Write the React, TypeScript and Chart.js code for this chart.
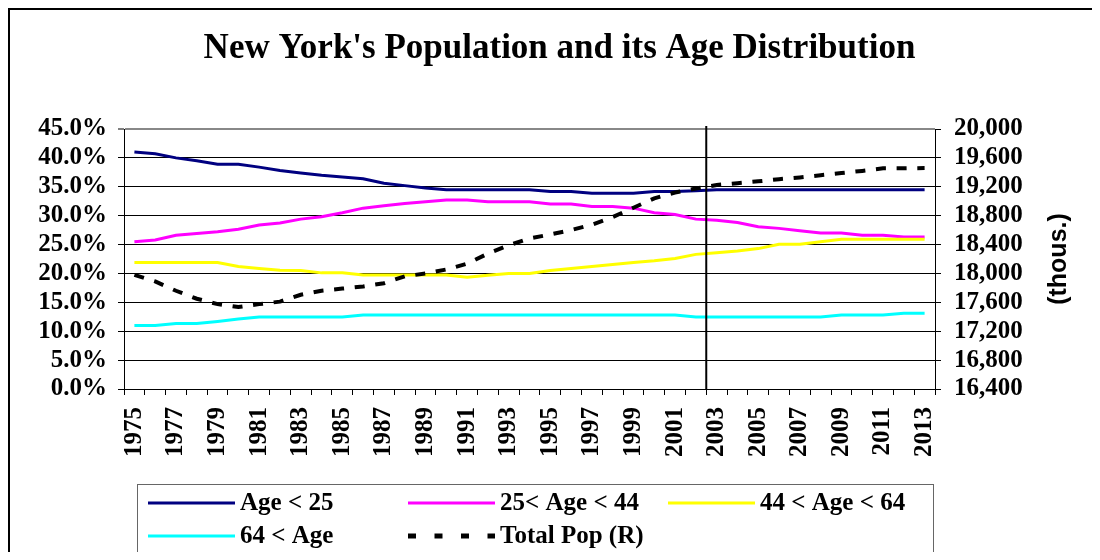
import React, { useEffect, useRef } from "react";
import { Chart, registerables } from "chart.js";

Chart.register(...registerables);

const years = [
  "1975", "1976", "1977", "1978", "1979", "1980", "1981", "1982", "1983", "1984",
  "1985", "1986", "1987", "1988", "1989", "1990", "1991", "1992", "1993", "1994",
  "1995", "1996", "1997", "1998", "1999", "2000", "2001", "2002", "2003", "2004",
  "2005", "2006", "2007", "2008", "2009", "2010", "2011", "2012", "2013",
];

const ageUnder25 = [
  41.0, 40.7, 40.0, 39.5, 38.9, 38.9, 38.4, 37.8, 37.4, 37.0,
  36.7, 36.4, 35.6, 35.2, 34.8, 34.5, 34.5, 34.5, 34.5, 34.5,
  34.2, 34.2, 33.9, 33.9, 33.9, 34.2, 34.2, 34.3, 34.5, 34.5,
  34.5, 34.5, 34.5, 34.5, 34.5, 34.5, 34.5, 34.5, 34.5,
];

const age25to44 = [
  25.5, 25.8, 26.6, 26.9, 27.2, 27.65, 28.4, 28.75, 29.4, 29.8,
  30.5, 31.3, 31.7, 32.1, 32.4, 32.7, 32.7, 32.4, 32.4, 32.4,
  32.0, 32.0, 31.6, 31.6, 31.3, 30.5, 30.2, 29.4, 29.2, 28.8,
  28.1, 27.8, 27.4, 27.0, 27.0, 26.6, 26.6, 26.3, 26.3,
];

const age44to64 = [
  21.9, 21.9, 21.9, 21.9, 21.9, 21.2, 20.85, 20.55, 20.5, 20.1,
  20.1, 19.75, 19.75, 19.75, 19.75, 19.75, 19.35, 19.7, 20.0, 20.0,
  20.5, 20.85, 21.2, 21.55, 21.9, 22.2, 22.6, 23.3, 23.6, 23.9,
  24.3, 25.05, 25.05, 25.5, 25.9, 25.9, 25.9, 25.9, 25.9,
];

const age64plus = [
  11.0, 11.0, 11.35, 11.35, 11.7, 12.1, 12.45, 12.45, 12.45, 12.45,
  12.45, 12.8, 12.8, 12.8, 12.8, 12.8, 12.8, 12.8, 12.8, 12.8,
  12.8, 12.8, 12.8, 12.8, 12.8, 12.8, 12.8, 12.45, 12.45, 12.45,
  12.45, 12.45, 12.45, 12.45, 12.8, 12.8, 12.8, 13.1, 13.1,
];

const totalPop = [
  17980, 17890, 17760, 17650, 17575, 17535, 17575, 17610, 17705, 17760,
  17790, 17820, 17865, 17960, 18000, 18055, 18135, 18275, 18390, 18485,
  18540, 18600, 18675, 18780, 18910, 19040, 19120, 19175, 19225, 19250,
  19275, 19305, 19330, 19360, 19390, 19420, 19455, 19455, 19460,
];

const seriesLabels = ["Age < 25", "25< Age < 44", "44 < Age < 64", "64 < Age", "Total Pop (R)"];
const seriesColors = ["#000080", "#FF00FF", "#FFFF00", "#00FFFF", "#000000"];

const pctMin = 0;
const pctMax = 45;
const pctStep = 5;
const popMin = 16400;
const popMax = 20000;
const popStep = 400;

const forecastStartYear = "2003";
const titleText = "New York's Population and its Age Distribution";
const rightAxisTitle = "(thous.)";

const SERIF = '"Liberation Serif", "Times New Roman", serif';
const SANS = '"Liberation Sans", Arial, sans-serif';

const markerPlugin = {
  id: "forecastMarker",
  afterDatasetsDraw(chart: any) {
    const xs = chart.scales.x;
    const i = years.indexOf(forecastStartYear);
    const px = (xs.getPixelForValue(i - 1) + xs.getPixelForValue(i)) / 2;
    const { top, bottom } = chart.chartArea;
    const ctx = chart.ctx;
    ctx.save();
    ctx.strokeStyle = "#000";
    ctx.lineWidth = 2;
    ctx.beginPath();
    ctx.moveTo(px, top - 3);
    ctx.lineTo(px, bottom);
    ctx.stroke();
    ctx.restore();
  },
};

const extrasPlugin = {
  id: "extras",
  afterDraw(chart: any) {
    const ctx = chart.ctx;
    const { left, right, top, bottom } = chart.chartArea;
    // title
    ctx.save();
    ctx.font = `bold 35px ${SERIF}`;
    ctx.fillStyle = "#000";
    ctx.textAlign = "center";
    ctx.textBaseline = "middle";
    ctx.fillText(titleText, (left + right) / 2 + 30, top - 80);
    ctx.restore();

    // right axis title, reading bottom-to-top
    ctx.save();
    ctx.translate(right + 124, (top + bottom) / 2);
    ctx.rotate(-Math.PI / 2);
    ctx.font = `bold 25px ${SANS}`;
    ctx.fillStyle = "#000";
    ctx.textAlign = "center";
    ctx.textBaseline = "middle";
    ctx.fillText(rightAxisTitle, 0, 0);
    ctx.restore();

    // legend
    const bx = left + 13;
    const by = bottom + 95;
    const bw = right - 2 - bx;
    const bh = 70;
    ctx.save();
    ctx.strokeStyle = "#666";
    ctx.lineWidth = 1;
    ctx.strokeRect(Math.round(bx) + 0.5, Math.round(by) + 0.5, Math.round(bw), bh);
    ctx.font = `bold 25px ${SERIF}`;
    ctx.textBaseline = "middle";
    ctx.textAlign = "left";
    chart.data.datasets.forEach((ds: any, k: number) => {
      const c = k % 3;
      const r = Math.floor(k / 3);
      const x0 = bx + 11 + c * 260;
      const y0 = by + 19 + r * 33;
      ctx.save();
      ctx.strokeStyle = ds.borderColor;
      if (ds.borderDash && ds.borderDash.length) {
        ctx.lineWidth = 5;
        ctx.setLineDash([8, 18.5]);
      } else {
        ctx.lineWidth = 3;
      }
      ctx.beginPath();
      ctx.moveTo(x0, y0);
      ctx.lineTo(x0 + 87, y0);
      ctx.stroke();
      ctx.restore();
      ctx.fillStyle = "#000";
      ctx.fillText(ds.label, x0 + 92, y0 + 1);
    });
    ctx.restore();
  },
};

export default function App() {
  const canvasRef = useRef<HTMLCanvasElement | null>(null);

  useEffect(() => {
    const canvas = canvasRef.current;
    if (!canvas) return;
    const values = [ageUnder25, age25to44, age44to64, age64plus, totalPop];
    const datasets = values.map((data, k) => ({
      label: seriesLabels[k],
      data,
      yAxisID: k === 4 ? "y1" : "y",
      borderColor: seriesColors[k],
      backgroundColor: seriesColors[k],
      borderWidth: k === 4 ? 4 : 3,
      borderDash: k === 4 ? [10, 10.7] : [],
      pointRadius: 0,
      tension: 0,
      fill: false,
      order: 4 - k,
    }));

    const tickFont = { family: SERIF, size: 25, weight: "bold" as const };

    const chart = new Chart(canvas, {
      type: "line",
      data: { labels: years, datasets },
      plugins: [markerPlugin, extrasPlugin],
      options: {
        responsive: false,
        animation: false,
        layout: { padding: { left: 0, right: 0, top: 119, bottom: 81 } },
        plugins: {
          legend: { display: false },
          tooltip: { enabled: false },
          title: { display: false },
        },
        scales: {
          x: {
            type: "category",
            offset: true,
            grid: {
              offset: true,
              drawOnChartArea: false,
              drawTicks: true,
              tickLength: 6,
              color: "#000",
            },
            border: { display: true, color: "#000", width: 1 },
            ticks: {
              autoSkip: false,
              maxRotation: 90,
              minRotation: 90,
              padding: 12,
              color: "#000",
              font: tickFont,
              callback: (_v: any, i: number) => (i % 2 === 0 ? years[i] : ""),
            },
            afterFit: (s: any) => {
              s.height = 90;
            },
          },
          y: {
            position: "left",
            min: pctMin,
            max: pctMax,
            grid: {
              color: (c: any) => (c.tick && c.tick.value === pctMax ? "#888" : "#000"),
              lineWidth: (c: any) => (c.tick && c.tick.value === pctMax ? 2 : 1),
              tickColor: "#000",
              tickWidth: 1,
              tickLength: 6,
              drawTicks: true,
            },
            border: { display: true, color: "#000", width: 1 },
            ticks: {
              autoSkip: false,
              stepSize: pctStep,
              padding: 11,
              color: "#000",
              font: tickFont,
              callback: (v: any) => Number(v).toFixed(1) + "%",
            },
            afterFit: (s: any) => {
              s.width = 114;
            },
          },
          y1: {
            position: "right",
            min: popMin,
            max: popMax,
            grid: {
              drawOnChartArea: false,
              drawTicks: true,
              tickLength: 6,
              color: "#000",
            },
            border: { display: true, color: "#000", width: 1 },
            ticks: {
              autoSkip: false,
              stepSize: popStep,
              padding: 13,
              color: "#000",
              font: tickFont,
              callback: (v: any) => Number(v).toLocaleString("en-US"),
            },
            afterFit: (s: any) => {
              s.width = 157;
            },
          },
        },
      } as any,
    });
    return () => chart.destroy();
  }, []);

  return (
    <div style={{ height: 544, overflow: "hidden" }}>
      <div
        style={{
          width: 1086,
          height: 600,
          border: "2px solid #000",
          boxSizing: "border-box",
          background: "#fff",
        }}
      >
        <canvas ref={canvasRef} width={1082} height={550} style={{ display: "block" }} />
      </div>
    </div>
  );
}
